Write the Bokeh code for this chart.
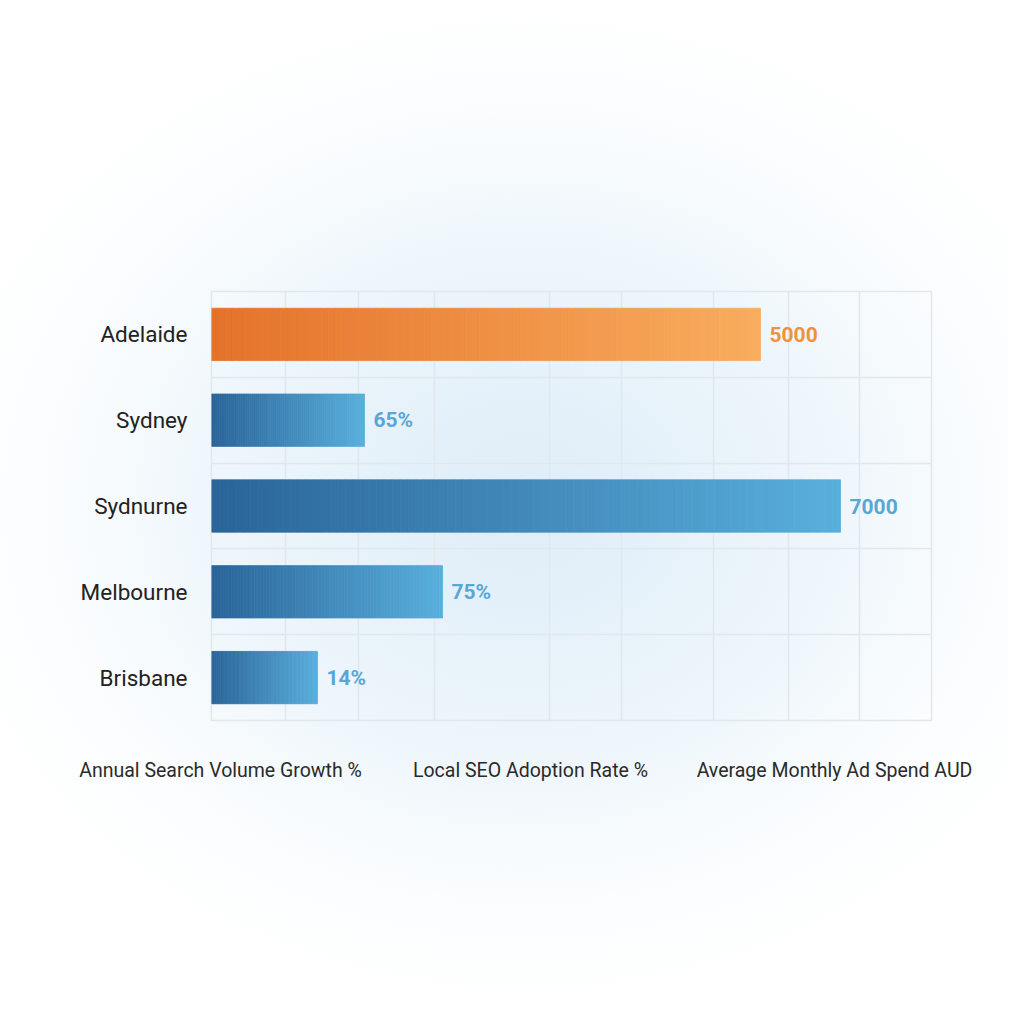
import numpy as np
from bokeh.plotting import figure
from bokeh.models import ColumnDataSource, FixedTicker, Range1d
from bokeh.core.properties import value
from bokeh.embed import file_html
from bokeh.resources import INLINE

# dados (comprimento das barras em unidades do gráfico, 0-720)
cidades = ["Adelaide", "Sydney", "Sydnurne", "Melbourne", "Brisbane"]
comprimentos = [549, 153, 629, 231, 106]
rotulos = ["5000", "65%", "7000", "75%", "14%"]
destaque = [True, False, False, False, False]

metricas = ["Annual Search Volume Growth %", "Local SEO Adoption Rate %", "Average Monthly Ad Spend AUD"]
pos_metricas = [9, 319, 623]
grade_x = [74, 147, 223, 338, 410, 502, 577, 648]

FONTE = "Roboto"


def hex_rgb(c):
    c = c.lstrip("#")
    return np.array([int(c[i:i + 2], 16) for i in (0, 2, 4)], dtype=float)


def mistura(c1, c2, t):
    r = hex_rgb(c1) * (1 - t) + hex_rgb(c2) * t
    return "#%02x%02x%02x" % tuple(int(round(v)) for v in r)


# barras em degradê: cada barra é dividida em fatias com cor interpolada
fatias = 80
esq, dir_, ys, cores = [], [], [], []
for i, (comp, laranja) in enumerate(zip(comprimentos, destaque)):
    c1, c2 = ("#e4722a", "#f9ad5e") if laranja else ("#2a6498", "#59afdc")
    for k in range(fatias):
        esq.append(comp * k / fatias)
        dir_.append(comp * (k + 1) / fatias)
        ys.append(i + 0.5)
        cores.append(mistura(c1, c2, (k + 0.5) / fatias))

fonte_barras = ColumnDataSource(dict(left=esq, right=dir_, y=ys, cor=cores))

p = figure(width=1008, height=1008, x_range=Range1d(0, 720), y_range=Range1d(5, 0),
           output_backend="svg", toolbar_location=None,
           min_border_left=211, min_border_right=77, min_border_top=291, min_border_bottom=288)
p.background_fill_color = None
p.border_fill_color = None
p.outline_line_color = "#e2e7ec"
p.outline_line_width = 1.5
p.styles = {"background": "radial-gradient(ellipse 60% 50% at 52% 50%, #deedf8 0%, #ecf5fb 45%, #fbfdfe 80%, #ffffff 100%)"}

p.hbar(left="left", right="right", y="y", height=0.61, fill_color="cor", line_color="cor",
       line_width=0.8, source=fonte_barras)

cores_rotulo = ["#f0913b" if d else "#5aa6d6" for d in destaque]
p.text(x=comprimentos, y=[i + 0.5 for i in range(len(cidades))], text=rotulos,
       x_offset=9, text_baseline="middle", text_align="left", text_color=cores_rotulo,
       text_font=value(FONTE), text_font_style="bold", text_font_size="21px")

# eixo Y com os nomes das cidades
p.yaxis.ticker = FixedTicker(ticks=[i + 0.5 for i in range(len(cidades))])
p.yaxis.major_label_overrides = {i + 0.5: c for i, c in enumerate(cidades)}
p.yaxis.axis_line_color = None
p.yaxis.major_tick_line_color = None
p.yaxis.minor_tick_line_color = None
p.yaxis.major_label_standoff = 18
p.yaxis.major_label_text_font = FONTE
p.yaxis.major_label_text_font_size = "22.5px"
p.yaxis.major_label_text_color = "#222222"

# eixo X com os nomes das métricas
p.xaxis.ticker = FixedTicker(ticks=pos_metricas)
p.xaxis.major_label_overrides = {x: m for x, m in zip(pos_metricas, metricas)}
p.xaxis.axis_line_color = None
p.xaxis.major_tick_line_color = None
p.xaxis.minor_tick_line_color = None
p.xaxis.major_label_standoff = 32
p.xaxis.major_label_text_font = FONTE
p.xaxis.major_label_text_font_size = "19.5px"
p.xaxis.major_label_text_color = "#2a2a2a"

p.xgrid.ticker = FixedTicker(ticks=grade_x)
p.ygrid.ticker = FixedTicker(ticks=[1, 2, 3, 4])
p.grid.grid_line_color = "#e2e7ec"
p.grid.grid_line_width = 1.5

open("out.html", "w").write(file_html(p, INLINE))
